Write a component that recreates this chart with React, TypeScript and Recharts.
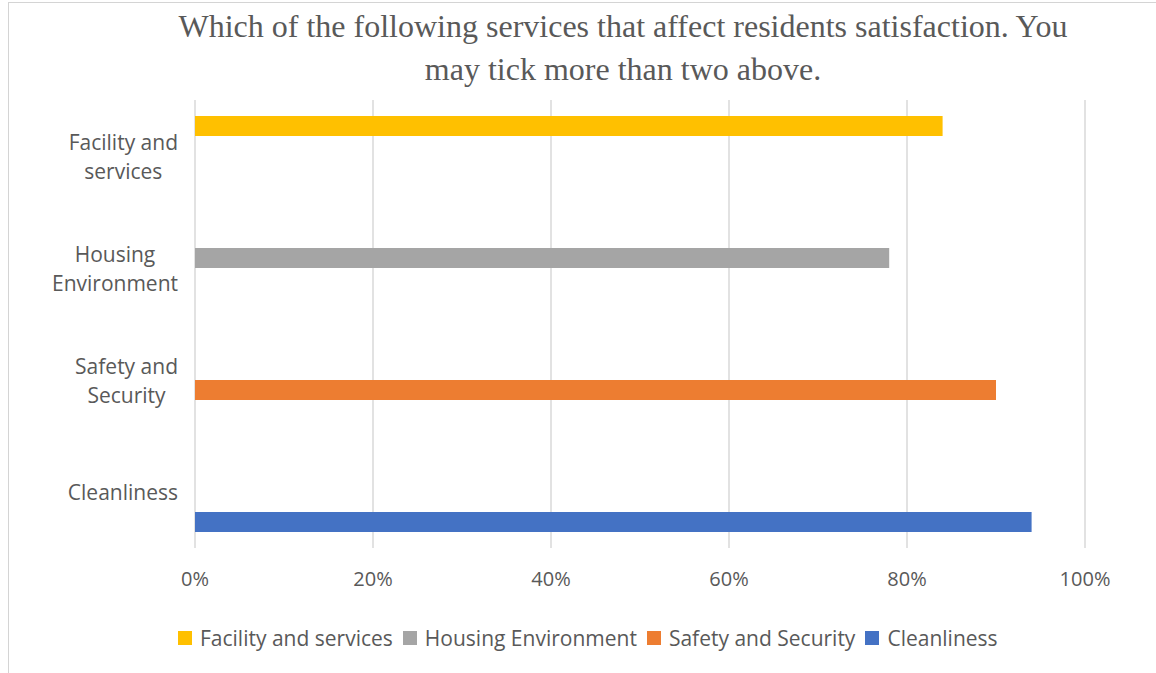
import React from 'react';
import { BarChart, Bar, XAxis, YAxis, CartesianGrid, Legend } from 'recharts';

const categories = ['Facility and services', 'Housing Environment', 'Safety and Security', 'Cleanliness'];
const seriesNames = ['Facility and services', 'Housing Environment', 'Safety and Security', 'Cleanliness'];
const seriesKeys = ['facility', 'housing', 'safety', 'cleanliness'];
const seriesColors = ['#FFC000', '#A5A5A5', '#ED7D31', '#4472C4'];
const facilityValues = [0.84, null, null, null];
const housingValues = [null, 0.78, null, null];
const safetyValues = [null, null, 0.9, null];
const cleanlinessValues = [null, null, null, 0.94];
const xTicks = [0, 0.2, 0.4, 0.6, 0.8, 1];
const titleLines = ['Which of the following services that affect residents satisfaction. You', 'may tick more than two above.'];

const seriesValues = [facilityValues, housingValues, safetyValues, cleanlinessValues];
const data = categories.map((c, i) => {
  const row: any = { name: c };
  seriesKeys.forEach((k, s) => { row[k] = seriesValues[s][i]; });
  return row;
});

const FONT = "'Open Sans', sans-serif";
const TEXT = '#595959';

let ctx: CanvasRenderingContext2D | null = null;
function measure(t: string, size: number) {
  if (!ctx) ctx = document.createElement('canvas').getContext('2d');
  if (!ctx) return t.length * size * 0.5;
  ctx.font = `${size}px 'Open Sans'`;
  return ctx.measureText(t).width;
}

function wrap(text: string, maxChars: number) {
  const words = text.split(' ');
  const lines: string[] = [];
  let cur = '';
  words.forEach((w) => {
    const cand = cur ? cur + ' ' + w : w;
    if (cand.length > maxChars && cur) { lines.push(cur); cur = w; } else cur = cand;
  });
  if (cur) lines.push(cur);
  return lines;
}

const YTick = (props: any) => {
  const { x, y, payload } = props;
  const size = 21;
  const lh = 29;
  const lines = wrap(String(payload.value), 12);
  const maxW = Math.max(...lines.map((l) => measure(l, size)));
  const right = x - 9;
  const cx = right - maxW / 2;
  const startY = y - ((lines.length - 1) * lh) / 2;
  return (
    <g>
      {lines.map((l, i) => (
        <text key={i} x={cx} y={startY + i * lh} textAnchor="middle" dominantBaseline="central" fill={TEXT} fontSize={size} fontFamily={FONT}>
          {l}
        </text>
      ))}
    </g>
  );
};

const LegendContent = () => (
  <div style={{ display: 'flex', alignItems: 'center', height: 30, fontFamily: FONT, fontSize: 21, color: TEXT, whiteSpace: 'nowrap' }}>
    {seriesNames.map((n, i) => (
      <div key={n} style={{ display: 'flex', alignItems: 'center', marginRight: 10 }}>
        <span style={{ display: 'inline-block', width: 14, height: 14, background: seriesColors[i], marginRight: 8 }} />
        <span>{n}</span>
      </div>
    ))}
  </div>
);

export default function App() {
  return (
    <div style={{ position: 'absolute', left: 0, top: 0, width: 1156, height: 673, background: '#fff', overflow: 'hidden' }}>
      <div style={{ position: 'absolute', left: 8, top: 2, width: 1200, height: 700, borderLeft: '1px solid #d4d4d4', borderTop: '1px solid #d4d4d4' }} />
      <div style={{ position: 'absolute', left: 0, top: 0 }}>
        <BarChart width={1156} height={673} data={data} layout="vertical" margin={{ top: 100, right: 71, left: 0, bottom: 20 }} barSize={20} barGap={0}>
          <CartesianGrid horizontal={false} stroke="#d9d9d9" strokeWidth={1.5} />
          <XAxis type="number" domain={[0, 1]} ticks={xTicks} axisLine={false} tickLine={false} tickMargin={18} height={75}
            tickFormatter={(v: number) => `${Math.round(v * 100)}%`} tick={{ fill: TEXT, fontSize: 20, fontFamily: FONT }} />
          <YAxis type="category" dataKey="name" width={195} axisLine={false} tickLine={false} tick={<YTick />} />
          {seriesKeys.map((k, i) => (
            <Bar key={k} dataKey={k} name={seriesNames[i]} fill={seriesColors[i]} isAnimationActive={false} />
          ))}
          <Legend verticalAlign="bottom" content={<LegendContent />} wrapperStyle={{ left: 178, width: 'auto' }} />
        </BarChart>
      </div>
      <div style={{ position: 'absolute', left: 0, top: 5, width: 1246, textAlign: 'center', fontFamily: "'Liberation Serif', 'Times New Roman', serif", fontSize: 32, color: TEXT, lineHeight: '43px' }}>
        {titleLines.map((l) => <div key={l}>{l}</div>)}
      </div>
    </div>
  );
}
